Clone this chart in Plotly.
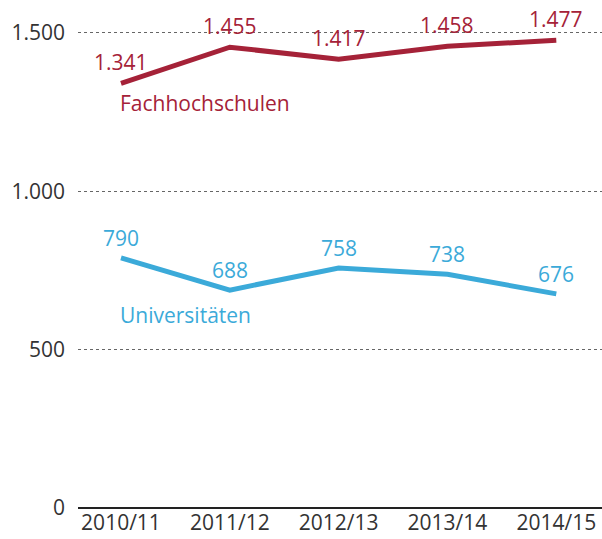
import plotly.graph_objects as go

years = ["2010/11", "2011/12", "2012/13", "2013/14", "2014/15"]
fachhochschulen = [1341, 1455, 1417, 1458, 1477]
universitaeten = [790, 688, 758, 738, 676]
y_ticks = [0, 500, 1000, 1500]

RED = "#A52238"
BLUE = "#3BAAD9"
FONT = "'Open Sans', Roboto, sans-serif"
FS = 21

def de(v):
    return f"{v:,}".replace(",", ".")

fig = go.Figure()
fig.add_trace(go.Scatter(x=years, y=fachhochschulen, mode="lines",
                         line=dict(color=RED, width=5), hoverinfo="skip"))
fig.add_trace(go.Scatter(x=years, y=universitaeten, mode="lines",
                         line=dict(color=BLUE, width=5), hoverinfo="skip"))

def f(color):
    return dict(color=color, size=FS, family=FONT, weight=400)

ann = []
for x, v in zip(years, fachhochschulen):
    ann.append(dict(x=x, y=v, text=de(v), showarrow=False, yshift=21, font=f(RED)))
for x, v in zip(years, universitaeten):
    ann.append(dict(x=x, y=v, text=de(v), showarrow=False, yshift=20, font=f(BLUE)))
ann.append(dict(x=years[0], y=fachhochschulen[0], text="Fachhochschulen", showarrow=False,
                xanchor="left", yshift=-20, xshift=-3, font=f(RED)))
ann.append(dict(x=years[0], y=universitaeten[0], text="Universitäten", showarrow=False,
                xanchor="left", yshift=-57, xshift=-3, font=f(BLUE)))

fig.update_layout(
    width=602, height=539,
    margin=dict(l=78, r=0, t=0, b=31),
    paper_bgcolor="white", plot_bgcolor="white",
    showlegend=False,
    separators=",.",
    annotations=ann,
    font=dict(family=FONT, color="#333333", size=FS, weight=400),
    xaxis=dict(type="category", range=[-0.395, 4.42], showgrid=False,
               showline=False, zeroline=False, ticks="", automargin=False,
               ticklabelstandoff=0, fixedrange=True,
               tickfont=f("#333333")),
    yaxis=dict(range=[0, 1604], tickvals=y_ticks, tickformat=",",
               showgrid=True, gridcolor="#666666", griddash="dot", gridwidth=1,
               zeroline=True, zerolinecolor="#222222", zerolinewidth=2,
               showline=False, ticks="", ticklabelstandoff=12, automargin=False,
               fixedrange=True,
               tickfont=f("#333333")),
)
# remove the browser's default 8px body margin so the figure fills the window
fig.write_html("out.html",
               config={"displayModeBar": False},
               post_script="document.body.style.margin='0px';document.body.style.overflow='hidden';")
